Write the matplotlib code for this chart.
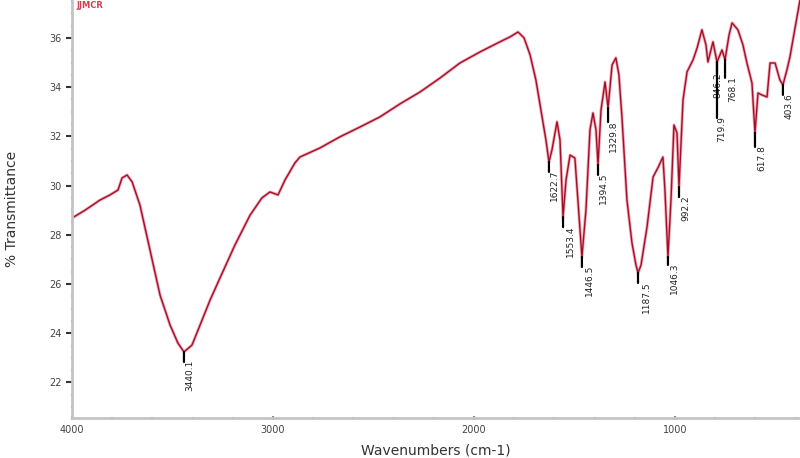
import matplotlib.pyplot as plt
import numpy as np
from matplotlib.ticker import MultipleLocator

# spectrum (wavenumber cm-1, % transmittance)
wavenumber = [4000, 3935, 3861, 3811, 3771, 3751, 3726, 3701, 3662, 3612,
              3562, 3512, 3473, 3443, 3403, 3363, 3313, 3264, 3189, 3114,
              3055, 3015, 2975, 2940, 2891, 2866, 2766, 2667, 2567, 2468,
              2368, 2269, 2169, 2070, 1970, 1871, 1821, 1781, 1751, 1721,
              1692, 1667, 1642, 1627, 1612, 1587, 1572, 1557, 1542, 1522,
              1498, 1483, 1463, 1443, 1423, 1408, 1393, 1383, 1368, 1348,
              1333, 1313, 1294, 1279, 1264, 1239, 1214, 1194, 1184, 1169,
              1139, 1109, 1085, 1060, 1050, 1035, 1020, 1005, 990, 980,
              960, 940, 910, 890, 866, 846, 836, 811, 791, 766,
              751, 731, 716, 687, 662, 642, 617, 602, 587, 567,
              542, 527, 502, 478, 463, 443, 428, 393, 378]
transmittance = [28.68, 29.00, 29.41, 29.62, 29.82, 30.31, 30.43, 30.15, 29.21, 27.38,
                 25.55, 24.33, 23.60, 23.24, 23.52, 24.33, 25.35, 26.24, 27.59, 28.80,
                 29.50, 29.74, 29.62, 30.23, 30.92, 31.16, 31.53, 31.98, 32.38, 32.79,
                 33.32, 33.80, 34.37, 34.98, 35.43, 35.84, 36.04, 36.24, 36.00, 35.31,
                 34.29, 33.07, 31.85, 30.96, 31.45, 32.59, 31.85, 28.72, 30.23, 31.24,
                 31.12, 29.41, 27.10, 29.00, 32.26, 32.95, 32.26, 30.84, 33.07, 34.21,
                 33.15, 34.90, 35.19, 34.50, 32.79, 29.41, 27.67, 26.77, 26.45, 26.77,
                 28.32, 30.35, 30.72, 31.16, 29.82, 27.10, 29.41, 32.46, 32.14, 29.94,
                 33.48, 34.62, 35.11, 35.59, 36.33, 35.72, 35.02, 35.84, 35.02, 35.51,
                 35.11, 36.12, 36.61, 36.33, 35.72, 34.98, 34.17, 32.14, 33.76, 33.68,
                 33.60, 34.98, 34.98, 34.29, 34.09, 34.70, 35.23, 36.85, 37.54]

# peak labels: text and the dip they sit under
peak_text = ["3440.1", "1622.7", "1553.4", "1446.5", "1394.5", "1329.8", "1187.5",
             "1046.3", "992.2", "846.2", "719.9", "768.1", "617.8", "403.6"]
peak_at = [3443, 1627, 1557, 1463, 1383, 1333, 1184,
           1035, 980, 791, 791, 751, 602, 463]
peak_drop = [6, 6, 6, 6, 6, 10, 6, 4, 6, 8, 52, 14, 10, 6]
peak_dx = [6, 5, 7, 8, 5, 5, 8, 7, 7, 1, 5, 8, 7, 6]

wn = np.array(wavenumber)
tr = np.array(transmittance)

fig = plt.figure(figsize=(8, 4.58), dpi=100)
ax = fig.add_axes([0.09, 0.087, 0.91, 0.913])

ax.plot(wn, tr, color='#f2a8b2', lw=2.2)
ax.plot(wn, tr, color='#a20e2a', lw=1.0)

order = np.argsort(wn)
for txt, x, drop, dx in zip(peak_text, peak_at, peak_drop, peak_dx):
    y = np.interp(x, wn[order], tr[order])
    ax.annotate('', xy=(x, y), xytext=(0, -drop - 4), textcoords='offset pixels',
                arrowprops=dict(arrowstyle='-', color='black', lw=1.6,
                                shrinkA=0, shrinkB=0))
    ax.annotate(txt, xy=(x, y), xytext=(dx, -drop - 2), textcoords='offset pixels',
                rotation=90, ha='center', va='top', fontsize=6.5, color='#222222')

ax.set_xlim(4000, 378)
ax.set_ylim(20.55, 37.54)
ax.set_xticks([4000, 3000, 2000, 1000])
ax.set_xticklabels(['4000', '3000', '2000', '1000'])
ax.set_yticks([22, 24, 26, 28, 30, 32, 34, 36])
ax.xaxis.set_minor_locator(MultipleLocator(200))
ax.yaxis.set_minor_locator(MultipleLocator(0.5))

for side in ['top', 'right']:
    ax.spines[side].set_visible(False)
for side in ['left', 'bottom']:
    ax.spines[side].set_color('#c4c4c4')
    ax.spines[side].set_linewidth(2)

ax.tick_params(axis='y', which='major', direction='out', length=4, width=1.5,
               color='#333333', labelsize=7, labelcolor='#444444')
ax.tick_params(axis='x', which='major', direction='inout', length=3, width=1.5,
               color='#888888', labelsize=7, labelcolor='#444444')
ax.tick_params(which='minor', direction='inout', length=2, width=1.5, color='#777777')

ax.set_xlabel('Wavenumbers (cm-1)', fontsize=10, color='#333333', labelpad=6)
ax.set_ylabel('% Transmittance', fontsize=10, color='#333333', labelpad=22)

ax.text(0.006, 0.997, 'JJMCR', transform=ax.transAxes, ha='left', va='top',
        fontsize=6, color='#d04050', fontweight='bold')

fig.savefig('out.png', dpi=100)
